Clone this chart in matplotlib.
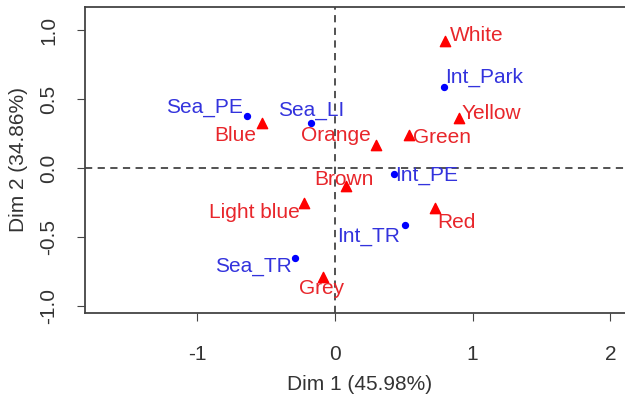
import matplotlib.pyplot as plt

plt.rcParams['font.family'] = ['Liberation Sans', 'DejaVu Sans']
plt.rcParams['axes.unicode_minus'] = False

# sites (blue dots)
site_names = ['Sea_PE', 'Sea_LI', 'Int_Park', 'Int_PE', 'Int_TR', 'Sea_TR']
site_x = [-0.64, -0.175, 0.79, 0.43, 0.51, -0.29]
site_y = [0.377, 0.33, 0.59, -0.04, -0.41, -0.65]

# colours (red triangles)
colour_names = ['Blue', 'Orange', 'Green', 'Yellow', 'White', 'Brown',
                'Light blue', 'Grey', 'Red']
colour_x = [-0.53, 0.30, 0.54, 0.90, 0.80, 0.08, -0.225, -0.09, 0.73]
colour_y = [0.33, 0.17, 0.24, 0.36, 0.92, -0.13, -0.25, -0.79, -0.29]

# label placement (pixel offset, alignment)
site_lab = [(-4, 9, 'right'), (0, 12, 'center'), (1, 9, 'left'),
            (1, -2, 'left'), (-5, -12, 'right'), (-3, -9, 'right')]
colour_lab = [(-6, -13, 'right'), (-5, 9, 'right'), (4, -3, 'left'),
              (3, 5, 'left'), (5, 6, 'left'), (-2, 7, 'center'),
              (-4, -10, 'right'), (-1, -11, 'center'), (2, -14, 'left')]

fig = plt.figure(figsize=(6.25, 3.99), dpi=100)
# the plot box runs past the right edge of the picture
ax = fig.add_axes([0.136, 0.2155, 0.88, 0.767])

ax.axhline(0, color='#444444', linestyle=(0, (4, 3)), linewidth=1.3)
ax.axvline(0, color='#444444', linestyle=(0, (4, 3)), linewidth=1.3)

ax.scatter(site_x, site_y, color='blue', marker='o', s=18, zorder=3)
ax.scatter(colour_x, colour_y, color='red', marker='^', s=55, zorder=3)

for name, x, y, (dx, dy, ha) in zip(site_names, site_x, site_y, site_lab):
    ax.annotate(name, (x, y), xytext=(dx, dy), textcoords='offset pixels',
                ha=ha, va='center', color='#3333dd', fontsize=15)
for name, x, y, (dx, dy, ha) in zip(colour_names, colour_x, colour_y, colour_lab):
    ax.annotate(name, (x, y), xytext=(dx, dy), textcoords='offset pixels',
                ha=ha, va='center', color='#e8262b', fontsize=15)

ax.set_xlim(-1.815, 2.179)
ax.set_ylim(-1.05, 1.167)
ax.set_xticks([-1, 0, 1, 2])
ax.set_xticklabels(['-1', '0', '1', '2'])
ax.set_yticks([-1.0, -0.5, 0.0, 0.5, 1.0])
ax.set_yticklabels(['-1.0', '-0.5', '0.0', '0.5', '1.0'], rotation=90, va='center')
ax.tick_params(labelsize=15, length=6, color='#444444', labelcolor='#333333')
ax.tick_params(axis='x', pad=17)
ax.tick_params(axis='y', pad=13)

ax.set_xlabel('Dim 1 (45.98%)', fontsize=15, color='#333333', labelpad=8)
ax.set_ylabel('Dim 2 (34.86%)', fontsize=15, color='#333333', labelpad=8)

for s in ax.spines.values():
    s.set_color('#444444')
    s.set_linewidth(1.3)

fig.savefig('out.png', dpi=100)
